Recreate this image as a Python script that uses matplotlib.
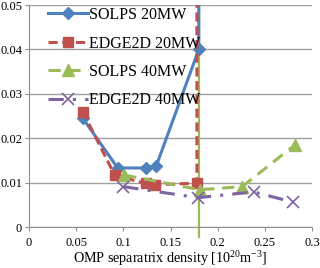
import matplotlib
matplotlib.use("Agg")
import matplotlib.pyplot as plt

solps20_x = [0.057, 0.094, 0.124, 0.135, 0.18, 0.18]
solps20_y = [0.0245, 0.0133, 0.0133, 0.0138, 0.040, 0.060]
edge20_x = [0.057, 0.091, 0.124, 0.134, 0.178, 0.178]
edge20_y = [0.0260, 0.0116, 0.0098, 0.0095, 0.0099, 0.060]
solps40_x = [0.101, 0.181, 0.226, 0.282]
solps40_y = [0.0117, 0.0084, 0.0091, 0.0185]
edge40_x = [0.100, 0.179, 0.238, 0.280]
edge40_y = [0.0091, 0.0066, 0.0079, 0.0056]
vline_x = [0.18, 0.18]
vline_y = [-0.0023, 0.0484]

xticks = [0, 0.05, 0.1, 0.15, 0.2, 0.25, 0.3]
xtick_labels = ["0", "0.05", "0.1", "0.15", "0.2", "0.25", "0.3"]
yticks = [0, 0.01, 0.02, 0.03, 0.04, 0.05]
ytick_labels = ["0", "0.01", "0.02", "0.03", "0.04", "0.05"]

plt.rcParams['font.family'] = ['Liberation Serif', 'DejaVu Serif']
plt.rcParams['mathtext.fontset'] = 'custom'
plt.rcParams['mathtext.rm'] = 'Liberation Serif'
plt.rcParams['mathtext.it'] = 'Liberation Serif:italic'
plt.rcParams['mathtext.default'] = 'regular'

fig = plt.figure(figsize=(3.2, 2.68), dpi=100)
ax = fig.add_axes([29/320, 41/268, 283/320, 222/268])

blue = "#4F81BD"
red = "#C0504D"
green = "#9BBB59"
purple = "#8064A2"

ax.plot(vline_x, vline_y, color=green, lw=1.6, clip_on=False, zorder=2)
ax.plot(solps20_x, solps20_y, color=blue, lw=2.2, marker="D", ms=6, label="SOLPS 20MW", zorder=3)
ax.plot(edge20_x, edge20_y, color=red, lw=2.2, ls=(0, (3, 1.5)), marker="s", ms=7.5, label="EDGE2D 20MW", zorder=4)
ax.plot(solps40_x, solps40_y, color=green, lw=2.2, ls=(0, (4, 2.5)), marker="^", ms=8, label="SOLPS 40MW", zorder=5)
ax.plot(edge40_x, edge40_y, color=purple, lw=2.2, ls=(0, (5, 3, 1, 3)), marker="x", ms=8, mew=1.2, label="EDGE2D 40MW", zorder=6)

ax.set_xlim(0, 0.3)
ax.set_ylim(0, 0.05)
ax.set_xticks(xticks)
ax.set_xticklabels(xtick_labels, fontsize=9)
ax.set_yticks(yticks)
ax.set_yticklabels(ytick_labels, fontsize=9)
ax.yaxis.grid(True, color="#A0A0A0", lw=1)
ax.set_axisbelow(True)
for s in ["top", "right"]:
    ax.spines[s].set_visible(False)
for s in ["left", "bottom"]:
    ax.spines[s].set_color("#909090")
ax.tick_params(axis="both", direction="out", length=3, color="#909090", pad=2)
ax.tick_params(axis="x", pad=4)

ax.set_xlabel("OMP separatrix density [10$^{20}$m$^{-3}$]", fontsize=10.2, labelpad=0)

leg = ax.legend(loc="upper left", bbox_to_anchor=(0.055, 1.005), frameon=False,
                fontsize=11.5, handlelength=2.5, labelspacing=0.78, handletextpad=0.1,
                borderaxespad=0.0, borderpad=0.2)

fig.savefig("out.png", dpi=100)
